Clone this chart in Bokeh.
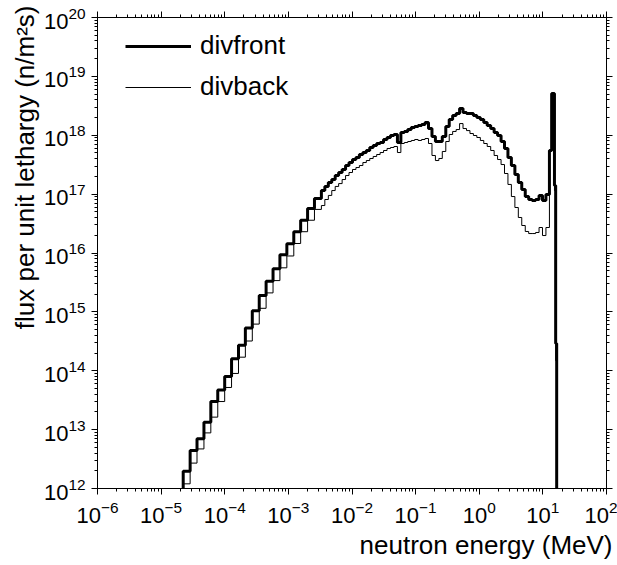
import numpy as np
from bokeh.plotting import figure
from bokeh.models import FixedTicker, LogAxis, Legend, LegendItem, Title
from bokeh.embed import file_html
from bokeh.resources import INLINE

# ---- data ----
# bin edges, as log10(E / MeV)
edge_exp = [
    -4.653, -4.544, -4.436, -4.327, -4.219, -4.110, -4.001, -3.893, -3.784, -3.676,
    -3.567, -3.458, -3.350, -3.241, -3.133, -3.024, -2.915, -2.807, -2.698, -2.590,
    -2.481, -2.427, -2.372, -2.318, -2.264, -2.210, -2.155, -2.101, -2.047, -1.992,
    -1.938, -1.884, -1.829, -1.775, -1.721, -1.667, -1.612, -1.558, -1.504, -1.449,
    -1.395, -1.341, -1.286, -1.232, -1.178, -1.124, -1.069, -1.015, -0.961, -0.906,
    -0.852, -0.798, -0.743, -0.689, -0.635, -0.581, -0.526, -0.472, -0.418, -0.363,
    -0.309, -0.255, -0.200, -0.146, -0.092, -0.038, 0.017, 0.071, 0.125, 0.180,
    0.234, 0.288, 0.343, 0.397, 0.451, 0.505, 0.560, 0.614, 0.668, 0.723,
    0.777, 0.831, 0.886, 0.940, 0.994, 1.048, 1.103, 1.138, 1.182, 1.201,
    1.217,
]

divfront = [
    1.97e12, 4.4e12, 7.0e12, 1.34e13, 3.0e13, 4.7e13, 8.0e13, 1.6e14, 2.7e14, 5.3e14,
    1.05e15, 1.9e15, 3.3e15, 5.4e15, 9.3e15, 1.43e16, 2.3e16, 3.6e16, 5.7e16, 8.4e16,
    1.15e17, 1.35e17, 1.57e17, 1.77e17, 2.07e17, 2.33e17, 2.62e17, 3.06e17, 3.44e17, 3.87e17,
    4.19e17, 4.71e17, 5.09e17, 5.51e17, 6.19e17, 6.70e17, 7.24e17, 7.53e17, 8.47e17, 9.16e17,
    9.9e17, 1.03e18, 7.53e17, 1.11e18, 1.16e18, 1.25e18, 1.35e18, 1.41e18, 1.47e18, 1.52e18,
    1.65e18, 1.30e18, 9.5e17, 7.83e17, 7.83e17, 9.5e17, 1.41e18, 1.85e18, 2.16e18, 2.34e18,
    2.85e18, 2.43e18, 2.34e18, 2.34e18, 2.16e18, 2.00e18, 1.85e18, 1.65e18, 1.47e18, 1.30e18,
    1.11e18, 9.9e17, 7.83e17, 5.96e17, 4.19e17, 3.06e17, 2.15e17, 1.57e17, 1.20e17, 9.1e16,
    8.1e16, 7.8e16, 8.1e16, 9.5e16, 7.8e16, 9.9e16, 5.51e17, 5.1e18, 1.40e17, 2.9e14,
]

divback = [
    1.2e12, 2.7e12, 4.7e12, 8.8e12, 1.63e13, 3.0e13, 5.2e13, 9.0e13, 1.7e14, 3.2e14,
    6.2e14, 1.15e15, 2.1e15, 3.4e15, 5.6e15, 8.9e15, 1.45e16, 2.3e16, 3.6e16, 5.5e16,
    6.4e16, 8.1e16, 9.5e16, 1.15e17, 1.35e17, 1.51e17, 1.77e17, 2.07e17, 2.33e17, 2.62e17,
    2.83e17, 3.06e17, 3.44e17, 3.72e17, 4.03e17, 4.36e17, 4.71e17, 5.09e17, 5.51e17, 5.96e17,
    6.19e17, 6.44e17, 5.09e17, 7.24e17, 7.53e17, 7.83e17, 8.15e17, 8.47e17, 8.15e17, 8.47e17,
    8.81e17, 7.24e17, 4.53e17, 3.72e17, 4.03e17, 5.30e17, 7.83e17, 1.03e18, 1.16e18, 1.25e18,
    1.58e18, 1.30e18, 1.20e18, 1.07e18, 9.9e17, 9.16e17, 8.15e17, 7.24e17, 6.44e17, 5.51e17,
    4.53e17, 3.87e17, 3.18e17, 2.24e17, 1.46e17, 9.1e16, 5.93e16, 4.01e16, 2.93e16, 2.32e16,
    2.14e16, 2.14e16, 2.23e16, 2.71e16, 1.98e16, 2.71e16, 5.51e17, 6.70e17, 1.15e17, 1.49e14,
]

x_decades = [-6, -5, -4, -3, -2, -1, 0, 1, 2]
y_decades = [12, 13, 14, 15, 16, 17, 18, 19, 20]

x_title = "neutron energy (MeV)"
y_title = "flux per unit lethargy (n/m\u00b2s)"

FONT = "Liberation Sans"
FLOOR = 1e10  # below the axis: steps start/end off-chart

edges = [10.0 ** e for e in edge_exp]


def step_xy(vals):
    xs = [edges[0]] + edges
    ys = [FLOOR] + list(vals) + [FLOOR]
    return xs, ys


p = figure(
    x_axis_type="log", y_axis_type="log",
    x_range=(1e-6, 1e2), y_range=(1e12, 1e20),
    frame_width=509, frame_height=471,
    min_border_left=97, min_border_right=11, min_border_top=17, min_border_bottom=77,
    output_backend="svg", toolbar_location=None,
)
p.grid.visible = False
p.outline_line_color = "black"
p.background_fill_color = "white"
p.border_fill_color = "white"

xmaj = [10.0 ** d for d in x_decades]
ymaj = [10.0 ** d for d in y_decades]
xmin = [m * 10.0 ** d for d in x_decades[:-1] for m in range(2, 10)]
ymin = [m * 10.0 ** d for d in y_decades[:-1] for m in range(2, 10)]
xt = FixedTicker(ticks=xmaj, minor_ticks=xmin)
yt = FixedTicker(ticks=ymaj, minor_ticks=ymin)


def style_axis(ax, labels=True):
    ax.axis_line_color = "black"
    ax.axis_line_width = 1
    ax.major_tick_line_color = "black"
    ax.minor_tick_line_color = "black"
    ax.major_tick_out = 6
    ax.major_tick_in = 0
    ax.minor_tick_out = 3
    ax.minor_tick_in = 0
    if labels:
        ax.major_label_text_font = FONT
        ax.major_label_text_font_size = "22px"
        ax.major_label_text_color = "black"
        ax.major_label_standoff = 6
    else:
        ax.major_label_text_font_size = "1px"
        ax.major_label_text_alpha = 0
        ax.major_label_standoff = 0


p.xaxis.ticker = xt
p.yaxis.ticker = yt
style_axis(p.xaxis[0])
style_axis(p.yaxis[0])

top = LogAxis(ticker=xt)
right = LogAxis(ticker=yt)
style_axis(top, labels=False)
style_axis(right, labels=False)
p.add_layout(top, "above")
p.add_layout(right, "right")

# axis titles, aligned to the far ends as in the reference
p.add_layout(Title(text=x_title, align="right", offset=-6, standoff=4,
                   text_font=FONT, text_font_size="26px",
                   text_font_style="normal", text_color="black"), "below")
p.add_layout(Title(text=y_title, align="right", offset=-12, standoff=2,
                   text_font=FONT, text_font_size="26px",
                   text_font_style="normal", text_color="black"), "left")

fx, fy = step_xy(divfront)
bx, by = step_xy(divback)
r1 = p.step(fx, fy, mode="after", line_color="black", line_width=3)
r2 = p.step(bx, by, mode="after", line_color="black", line_width=1)

legend = Legend(
    items=[LegendItem(label="divfront", renderers=[r1]),
           LegendItem(label="divback", renderers=[r2])],
    location=(28, 386),
    padding=0, margin=0, spacing=10,
    glyph_width=66, glyph_height=20, label_height=20, label_standoff=9,
    label_text_font=FONT, label_text_font_size="26px", label_text_color="black",
    background_fill_alpha=0, border_line_color=None,
)
p.add_layout(legend)

open("out.html", "w").write(file_html(p, INLINE))
